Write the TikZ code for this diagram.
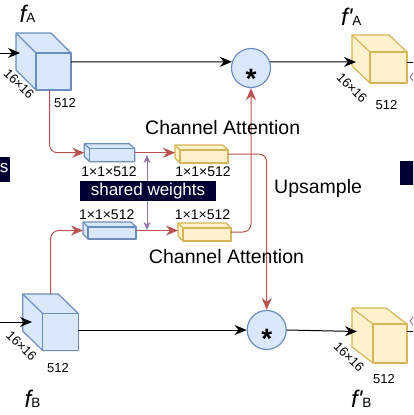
\documentclass[tikz,border=0pt]{standalone}
\usepackage{fontspec}
\setmainfont{Liberation Sans}
\usetikzlibrary{arrows.meta,calc}
\definecolor{bfill}{HTML}{DAE8FC}
\definecolor{bdraw}{HTML}{6C8EBF}
\definecolor{yfill}{HTML}{FFF2CC}
\definecolor{ydraw}{HTML}{D6B656}
\definecolor{redc}{HTML}{B85450}
\definecolor{purc}{HTML}{9673A6}
\definecolor{navy}{HTML}{000033}
\tikzset{
  bluebox/.style={fill=bfill,draw=bdraw,line width=1.2pt,line join=round},
  yelbox/.style={fill=yfill,draw=ydraw,line width=1.2pt,line join=round},
  blk/.style={draw=black,line width=1pt,-{Stealth[length=12pt,width=10pt]}},
  plainblk/.style={draw=black,line width=1pt},
  redarr/.style={draw=redc,line width=1pt,rounded corners=8pt,-{Stealth[length=12pt,width=10pt]}},
  purarr/.style={draw=purc,line width=1pt,{Stealth[length=8pt,width=7pt]}-{Stealth[length=8pt,width=7pt]}},
  circ/.style={circle,minimum size=39pt,inner sep=0pt,fill=bfill,draw=bdraw,line width=1.2pt},
  ast/.style={inner sep=0pt,font=\fontsize{28}{28}\selectfont\bfseries},
  lbl/.style={inner sep=0pt,font=\fontsize{14}{16}\selectfont},
  num/.style={inner sep=0pt,font=\fontsize{13}{15}\selectfont},
  dimlbl/.style={inner sep=0pt,rotate=-45,font=\fontsize{13}{15}\selectfont},
  catt/.style={inner sep=0pt,font=\fontsize{19.5}{22}\selectfont},
  navybox/.style={fill=navy,inner sep=0pt},
  flbl/.style={inner sep=0pt,anchor=base west},
}
\newcommand\mycube[8]{% name, x, y, w, h, dx, dy, style
  \filldraw[#8] (#2,#3) -- ++(#4,0) -- ++(#6,#7) -- ++(0,#5) -- ++(-#4,0) -- ++(-#6,-#7) -- cycle;
  \coordinate (#1-b) at (#2,#3);
  \path (#2,#3) ++(#6,#7) node[#8,anchor=north west,minimum width=#4pt,minimum height=#5pt,inner sep=0pt,outer sep=0pt] (#1) {};
  \draw[#8,fill=none] (#1-b) -- (#1.north west);
  \coordinate (#1-c) at ($(#1-b)!0.5!(#1.south east)$);
}
\newcommand\fl[2]{{\fontsize{24}{24}\selectfont\itshape #1}{\fontsize{13.5}{13.5}\selectfont #2}}
\begin{document}
\begin{tikzpicture}[x=1pt,y=-1pt]
\useasboundingbox (0,0) rectangle (413,415);
\begin{scope}
\clip (0,0) rectangle (413,415);
% side navy boxes
\node[navybox,minimum width=20pt,minimum height=25pt,anchor=east] (lbox) at (10,169.5) {};
\node[inner sep=0pt,text=white,font=\fontsize{17}{17}\selectfont] (ls) at (4,168.5) {s};
\node[navybox,minimum width=20pt,minimum height=24pt,anchor=west] (rbox) at (400,173) {};
% cubes
\mycube{fA}{16}{33}{35}{37}{20}{20}{bluebox}
\mycube{fpA}{352}{35}{37}{31}{18}{17}{yelbox}
\mycube{fB}{22.7}{294}{35.6}{37}{20}{19.5}{bluebox}
\mycube{fpB}{352}{308}{34}{39}{21}{16}{yelbox}
\mycube{bluA}{84.3}{143.7}{45}{13}{5.5}{5}{bluebox}
\mycube{yelA}{175}{145}{48}{13}{5}{5}{yelbox}
\mycube{bluB}{83}{222}{48}{12}{5}{5}{bluebox}
\mycube{yelB}{178}{223}{48}{13}{5}{5}{yelbox}
% circles
\node[circ] (cA) at (251,68) {};
\node[circ] (cB) at (266.7,330) {};
\node[ast] (cAs) at (251,79) {*};
\node[ast] (cBs) at (266.7,339) {*};
% free ends
\coordinate (inA) at (0,53);
\coordinate (inAend) at (20,53);
\coordinate (lA) at (0,62);
\coordinate (fpAin) at (356,62);
\coordinate (rA) at (413,62);
\coordinate (inB) at (0,322);
\coordinate (inBend) at (32,322);
\coordinate (fpBin) at (357,331.5);
\coordinate (rB) at (413,331);
\coordinate (pu1) at (147,155);
\coordinate (pu2) at (147,230);
% black connectors
\draw[blk] (inA) -- (inAend);
\draw[blk] (fA.east |- lA) -- (cA.162);
\draw[blk] (cA.18) -- (fpAin);
\draw[plainblk] (fpA.east |- lA) -- (rA);
\draw[blk] (inB) -- (inBend);
\draw[blk] (fB.east |- cB.west) -- (cB.west);
\draw[blk] (cB.east) -- (fpBin);
\draw[plainblk] (fpB.east |- rB) -- (rB);
% red connectors
\draw[redarr] ([xshift=-4pt]fA.south) |- (bluA-c -| bluA-b);
\draw[redarr] (bluA-c -| bluA.east) -- (bluA-c -| yelA-b);
\draw[redarr] (yelA-c -| yelA.east) -| (cB.north);
\draw[redarr] ([xshift=28pt]fB-b) |- (bluB-c -| bluB-b);
\draw[redarr] (bluB-c -| bluB.east) -- (bluB-c -| yelB-b);
\draw[redarr] (yelB-c -| yelB.east) -| (cA.south);
% purple
\draw[purarr] (pu1) -- (pu2);
\draw[purc,line width=1pt] (414,72) -- (410,77) -- (414,82);
\draw[purc,line width=1pt] (414,316) -- (410,321) -- (414,326);
% shared weights
\node[navybox,minimum width=136pt,minimum height=20pt,text=white,font=\fontsize{17}{17}\selectfont] (sw) at (148,191) {shared weights};
% labels
\node[catt] (ca1) at (222.7,128) {Channel Attention};
\node[catt] (ca2) at (226.5,257) {Channel Attention};
\node[catt,anchor=west] (ups) at (274,188) {Upsample};
\node[lbl] (l1) at (109,171.5) {1×1×512};
\node[lbl] (l2) at (203,171.5) {1×1×512};
\node[lbl] (l3) at (106.7,215) {1×1×512};
\node[lbl] (l4) at (202.5,215) {1×1×512};
\node[num] (n1) at (65,103) {512};
\node[num] (n2) at (386.5,105.5) {512};
\node[num] (n3) at (58,368) {512};
\node[num] (n4) at (384,379) {512};
\node[dimlbl] (d1) at (19,84) {16×16};
\node[dimlbl] (d2) at (352,88) {16×16};
\node[dimlbl] (d3) at (21.5,346) {16×16};
\node[dimlbl] (d4) at (349,357) {16×16};
\node[flbl] (tA) at (19.5,22) {\fl{f}{A}};
\node[flbl] (tpA) at (341,25) {\fl{f\textquotesingle}{A}};
\node[flbl] (tB) at (24.5,407) {\fl{f}{B}};
\node[flbl] (tpB) at (351,407) {\fl{f\textquotesingle}{B}};
\end{scope}
\end{tikzpicture}
\end{document}
